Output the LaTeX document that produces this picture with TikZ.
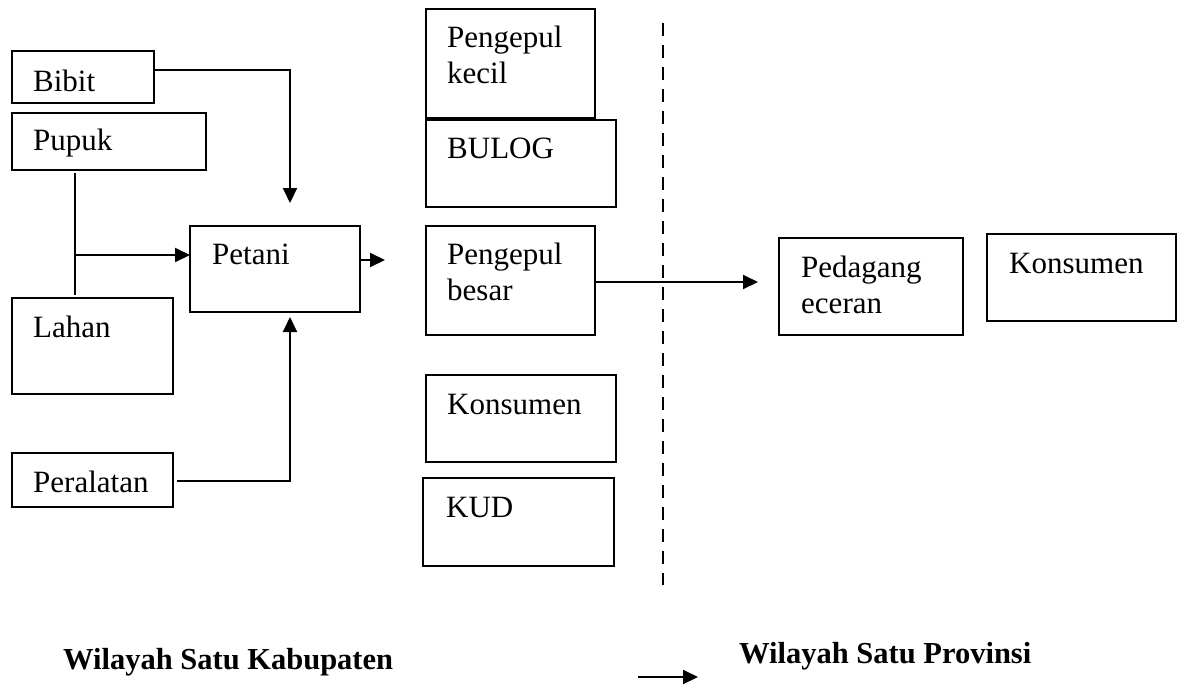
\documentclass[tikz,border=0pt]{standalone}
\usepackage{fontspec}
\setmainfont{Liberation Serif}
\usetikzlibrary{arrows.meta}
\begin{document}
\begin{tikzpicture}[x=1pt,y=-1pt,
  box/.style={draw, line width=2pt, inner sep=0pt},
  lbl/.style={inner sep=0pt, anchor=base west, align=left, font=\fontsize{31}{36}\selectfont},
  ttl/.style={inner sep=0pt, anchor=base west, font=\fontsize{30.5}{36}\selectfont\bfseries},
  conn/.style={line width=2pt},
  arr/.style={line width=2pt, -{Triangle[length=15pt,width=14pt]}}]
\useasboundingbox (0,0) rectangle (1178,686);
% boxes
\node[box, minimum width=142pt, minimum height=52pt] (bibit) at (83,77) {};
\node[box, minimum width=194pt, minimum height=57pt] (pupuk) at (109,141.5) {};
\node[box, minimum width=161pt, minimum height=96pt] (lahan) at (92.5,346) {};
\node[box, minimum width=161pt, minimum height=54pt] (peralatan) at (92.5,480) {};
\node[box, minimum width=170pt, minimum height=86pt] (petani) at (275,269) {};
\node[box, minimum width=169pt, minimum height=109pt] (pkecil) at (510.5,63.5) {};
\node[box, minimum width=190pt, minimum height=87pt] (bulog) at (521,163.5) {};
\node[box, minimum width=169pt, minimum height=109pt] (pbesar) at (510.5,280.5) {};
\node[box, minimum width=190pt, minimum height=87pt] (konsumen1) at (521,418.5) {};
\node[box, minimum width=191pt, minimum height=88pt] (kud) at (518.5,522) {};
\node[box, minimum width=184pt, minimum height=97pt] (pedagang) at (871,286.5) {};
\node[box, minimum width=189pt, minimum height=87pt] (konsumen2) at (1081.5,277.5) {};
% labels (multi-line: anchor at last line's baseline)
\node[lbl] (tbibit) at (33,91) {Bibit};
\node[lbl] (tpupuk) at (33,150) {Pupuk};
\node[lbl] (tlahan) at (33,337) {Lahan};
\node[lbl] (tperalatan) at (33,492) {Peralatan};
\node[lbl] (tpetani) at (212,264) {Petani};
\node[lbl] (tpkecil) at (447,83) {Pengepul\\kecil};
\node[lbl] (tbulog) at (447,158) {BULOG};
\node[lbl] (tpbesar) at (447,300) {Pengepul\\besar};
\node[lbl] (tkonsumen1) at (447,414) {Konsumen};
\node[lbl] (tkud) at (446,517) {KUD};
\node[lbl] (tpedagang) at (801,313) {Pedagang\\eceran};
\node[lbl] (tkonsumen2) at (1009,273) {Konsumen};
\node[ttl] (kab) at (63,669) {Wilayah Satu Kabupaten};
\node[ttl] (prov) at (739,663) {Wilayah Satu Provinsi};
% helper coordinates
\coordinate (bibitout) at (154,70);
\coordinate (petanitop) at (290,203);
\coordinate (pupukdown) at (75,173);
\coordinate (lahanup) at (75,295);
\coordinate (branch) at (75,255);
\coordinate (petanileft) at (190,255);
\coordinate (peralout) at (177,481);
\coordinate (petanibot) at (290,317);
\coordinate (petaniout) at (360,260);
\coordinate (petaniend) at (385,260);
\coordinate (pbesarout) at (595,282);
\coordinate (pedagangin) at (758,282);
\coordinate (dtop) at (663,23);
\coordinate (dbot) at (663,585);
\coordinate (sa) at (638,677);
\coordinate (sb) at (698,677);
% connectors
\draw[arr] (bibitout) -| (petanitop);
\draw[conn] (pupukdown) -- (lahanup);
\draw[arr] (branch) -- (petanileft);
\draw[arr] (peralout) -| (petanibot);
\draw[arr] (petaniout) -- (petaniend);
\draw[arr] (pbesarout) -- (pedagangin);
\draw[line width=2pt, dash pattern=on 13pt off 9pt] (dtop) -- (dbot);
\draw[arr] (sa) -- (sb);
\end{tikzpicture}
\end{document}
